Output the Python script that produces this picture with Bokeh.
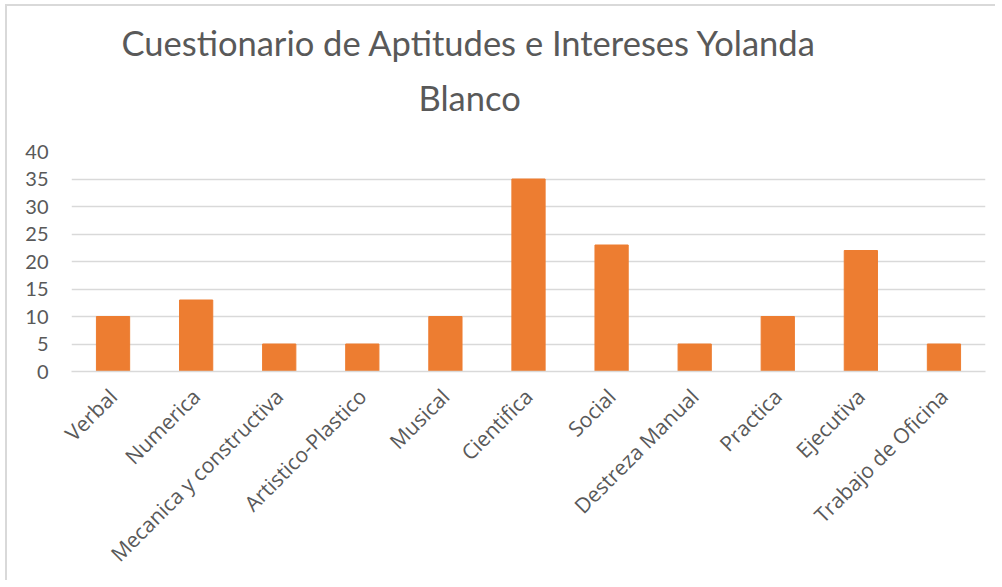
import math
from bokeh.plotting import figure
from bokeh.models import Range1d, FactorRange, Title
from bokeh.embed import file_html
from bokeh.resources import INLINE

categories = ["Verbal", "Numerica", "Mecanica y constructiva", "Artistico-Plastico",
              "Musical", "Cientifica", "Social", "Destreza Manual", "Practica",
              "Ejecutiva", "Trabajo de Oficina"]
values = [10, 13, 5, 5, 10, 35, 23, 5, 10, 22, 5]
y_ticks = [0, 5, 10, 15, 20, 25, 30, 35, 40]
title_line1 = "Cuestionario de Aptitudes e Intereses Yolanda"
title_line2 = "Blanco"

p = figure(x_range=FactorRange(*categories, range_padding=0),
           y_range=Range1d(0, 40),
           frame_width=914, frame_height=220,
           min_border_left=64, min_border_right=10,
           min_border_top=145, min_border_bottom=205,
           output_backend="svg", toolbar_location=None, tools="")
p.styles = {"margin-left": "5px", "margin-top": "4px",
            "border-left": "2px solid #d9d9d9", "border-top": "2px solid #d9d9d9"}
p.title.visible = False
p.outline_line_color = None
p.background_fill_color = "white"
p.border_fill_color = "white"

p.vbar(x=categories, top=values, width=0.4, color="#ED7D31")

p.xgrid.grid_line_color = None
p.ygrid.grid_line_color = "#d9d9d9"
p.ygrid.grid_line_width = 1.5

p.yaxis.ticker = y_ticks
p.yaxis.axis_line_color = None
p.yaxis.major_tick_line_color = None
p.yaxis.minor_tick_line_color = None
p.yaxis.major_label_standoff = 17
p.yaxis.major_label_text_font = "Lato"
p.yaxis.major_label_text_font_size = "20px"
p.yaxis.major_label_text_color = "#595959"

p.xaxis.axis_line_color = "#d9d9d9"
p.xaxis.axis_line_width = 1.5
p.xaxis.major_tick_line_color = None
p.xaxis.major_label_orientation = math.pi / 4
p.xaxis.major_label_standoff = 15
p.xaxis.major_label_text_font = "Open Sans"
p.xaxis.major_label_text_font_size = "21px"
p.xaxis.major_label_text_color = "#595959"

t2 = Title(text=title_line2, align="left", offset=347, standoff=67,
           text_font="Lato", text_font_size="34.5px", text_font_style="normal",
           text_color="#595959")
t1 = Title(text=title_line1, align="left", offset=50, standoff=-42,
           text_font="Lato", text_font_size="34.5px", text_font_style="normal",
           text_color="#595959")
p.add_layout(t2, "above")
p.add_layout(t1, "above")

open("out.html", "w").write(file_html(p, INLINE))
